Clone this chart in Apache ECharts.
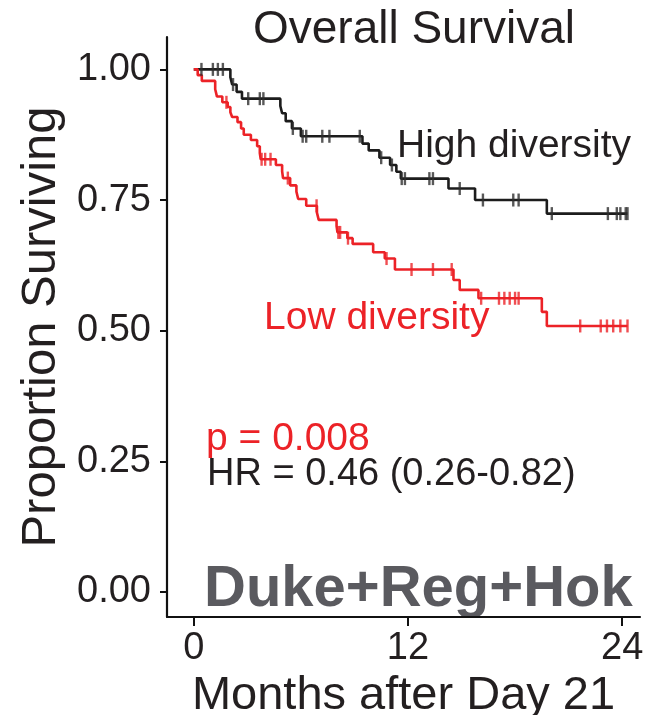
<!DOCTYPE html>
<html>
<head>
<meta charset="utf-8">
<script src="https://cdn.jsdelivr.net/npm/echarts@6/dist/echarts.min.js"></script>
<style>
  html, body { margin: 0; padding: 0; background: #ffffff; }
  #chart { width: 652px; height: 715px; }
</style>
</head>
<body>
<div id="chart"></div>
<script>
// Kaplan-Meier steps: time (months) of each drop and the survival after it
const highTimes = [0, 2.05, 2.15, 2.4, 2.7, 4.85, 4.95, 5.15, 5.5, 6.0, 9.45, 9.8, 10.4, 11.0, 11.35, 11.6, 14.27, 15.76, 19.78];
const highSurv  = [1.0, 0.985, 0.971, 0.957, 0.944, 0.930, 0.916, 0.901, 0.887, 0.872, 0.858, 0.845, 0.831, 0.817, 0.804, 0.791, 0.772, 0.750, 0.724];
const highCensor = [0.43, 1.07, 1.35, 1.63, 2.2, 3.05, 3.7, 3.9, 5.55, 6.1, 6.3, 7.2, 7.6, 9.3, 10.5, 11.1, 11.65, 11.83, 13.2, 13.4, 14.9, 16.2, 17.9, 18.2, 20.06, 23.2, 23.7, 23.9, 24.2, 24.3];

const lowTimes = [0, 0.22, 0.45, 1.2, 1.3, 1.6, 1.9, 2.05, 2.15, 2.45, 2.65, 2.8, 3.2, 3.55, 3.7, 3.75, 4.6, 4.95, 5.0, 5.4, 5.75, 5.85, 6.3, 6.9, 7.0, 8.0, 8.05, 8.6, 8.9, 10.05, 10.7, 11.27, 14.55, 14.9, 15.95, 19.5, 19.78];
const lowSurv  = [1.0, 0.989, 0.978, 0.962, 0.948, 0.937, 0.928, 0.918, 0.909, 0.899, 0.887, 0.875, 0.865, 0.853, 0.840, 0.828, 0.817, 0.805, 0.792, 0.778, 0.766, 0.752, 0.739, 0.726, 0.712, 0.700, 0.688, 0.677, 0.666, 0.650, 0.638, 0.617, 0.597, 0.578, 0.562, 0.536, 0.509];
const lowCensor = [1.83, 3.8, 4.0, 4.3, 5.27, 6.88, 8.1, 8.2, 8.64, 10.8, 12.2, 13.4, 14.45, 16.1, 17.1, 17.4, 17.7, 18.0, 18.2, 21.65, 22.8, 23.15, 23.5, 23.9, 24.3];

const followUpEnd = 24.3;
const xTicks = [0, 12, 24];
const yTicks = [0, 0.25, 0.5, 0.75, 1.0];

const FONT = "'Liberation Sans', Arial, sans-serif";
const RED = '#ec2227';
const BLACK = '#1c1c1c';
const TEXT = '#231f20';

// step-function survival at a given time
function survAt(times, surv, t) {
  let s = surv[0];
  for (let i = 0; i < times.length; i++) {
    if (times[i] <= t) s = surv[i];
  }
  return s;
}
function stepData(times, surv) {
  const d = times.map((t, i) => [t, surv[i]]);
  d.push([followUpEnd, surv[surv.length - 1]]);
  return d;
}
function censorData(times, surv, cens) {
  return cens.map(t => [t, survAt(times, surv, t)]);
}

const chart = echarts.init(document.getElementById('chart'), null, { renderer: 'canvas' });

chart.setOption({
  animation: false,
  backgroundColor: '#ffffff',
  textStyle: { fontFamily: FONT },
  grid: { left: 167, right: 12, top: 37, bottom: 98, containLabel: false, outerBoundsMode: 'none' },
  xAxis: {
    type: 'value',
    min: -1.5,
    max: 25,
    name: 'Months after Day 21',
    nameLocation: 'middle',
    nameGap: 35,
    nameTextStyle: { fontSize: 47, color: TEXT, fontFamily: FONT },
    axisLine: { show: true, onZero: false, lineStyle: { color: '#111', width: 2.2 } },
    axisTick: { show: true, customValues: xTicks, length: 9, lineStyle: { color: '#111', width: 2 } },
    axisLabel: { customValues: xTicks, fontSize: 38, color: TEXT, margin: 13, fontFamily: FONT },
    splitLine: { show: false }
  },
  yAxis: {
    type: 'value',
    min: -0.048,
    max: 1.062,
    name: 'Proportion Surviving',
    nameLocation: 'middle',
    nameRotate: 90,
    nameGap: 95,
    nameTextStyle: { fontSize: 49, color: TEXT, fontFamily: FONT },
    axisLine: { show: true, onZero: false, lineStyle: { color: '#111', width: 2.2 } },
    axisTick: { show: true, customValues: yTicks, length: 7, lineStyle: { color: '#111', width: 2 } },
    axisLabel: {
      customValues: yTicks, fontSize: 38, color: TEXT, margin: 16, fontFamily: FONT,
      formatter: v => Number(v).toFixed(2)
    },
    splitLine: { show: false }
  },
  series: [
    {
      name: 'High diversity',
      type: 'line',
      step: 'end',
      showSymbol: false,
      data: stepData(highTimes, highSurv),
      lineStyle: { color: BLACK, width: 2.6 },
      z: 3
    },
    {
      name: 'Low diversity',
      type: 'line',
      step: 'end',
      showSymbol: false,
      data: stepData(lowTimes, lowSurv),
      lineStyle: { color: RED, width: 2.6 },
      z: 4
    },
    {
      name: 'High diversity censored',
      type: 'scatter',
      symbol: 'rect',
      symbolSize: [2.4, 13],
      itemStyle: { color: '#2e2e2e' },
      data: censorData(highTimes, highSurv, highCensor),
      z: 5
    },
    {
      name: 'Low diversity censored',
      type: 'scatter',
      symbol: 'rect',
      symbolSize: [2.4, 13],
      itemStyle: { color: RED },
      data: censorData(lowTimes, lowSurv, lowCensor),
      z: 6
    }
  ],
  graphic: [
    { type: 'text', x: 414, y: 30, style: { text: 'Overall Survival', fill: TEXT, fontSize: 46, fontFamily: FONT, align: 'center', verticalAlign: 'middle' } },
    { type: 'text', x: 397, y: 146, style: { text: 'High diversity', fill: TEXT, fontSize: 39, fontFamily: FONT, align: 'left', verticalAlign: 'middle' } },
    { type: 'text', x: 264, y: 318, style: { text: 'Low diversity', fill: RED, fontSize: 39, fontFamily: FONT, align: 'left', verticalAlign: 'middle' } },
    { type: 'text', x: 206, y: 439, style: { text: 'p = 0.008', fill: RED, fontSize: 39, fontFamily: FONT, align: 'left', verticalAlign: 'middle' } },
    { type: 'text', x: 207, y: 475, style: { text: 'HR = 0.46 (0.26-0.82)', fill: TEXT, fontSize: 38, fontFamily: FONT, align: 'left', verticalAlign: 'middle' } },
    { type: 'text', x: 204, y: 590, style: { text: 'Duke+Reg+Hok', fill: '#5a5a5f', fontSize: 58, fontWeight: 'bold', fontFamily: FONT, align: 'left', verticalAlign: 'middle' } }
  ]
});
</script>
</body>
</html>
